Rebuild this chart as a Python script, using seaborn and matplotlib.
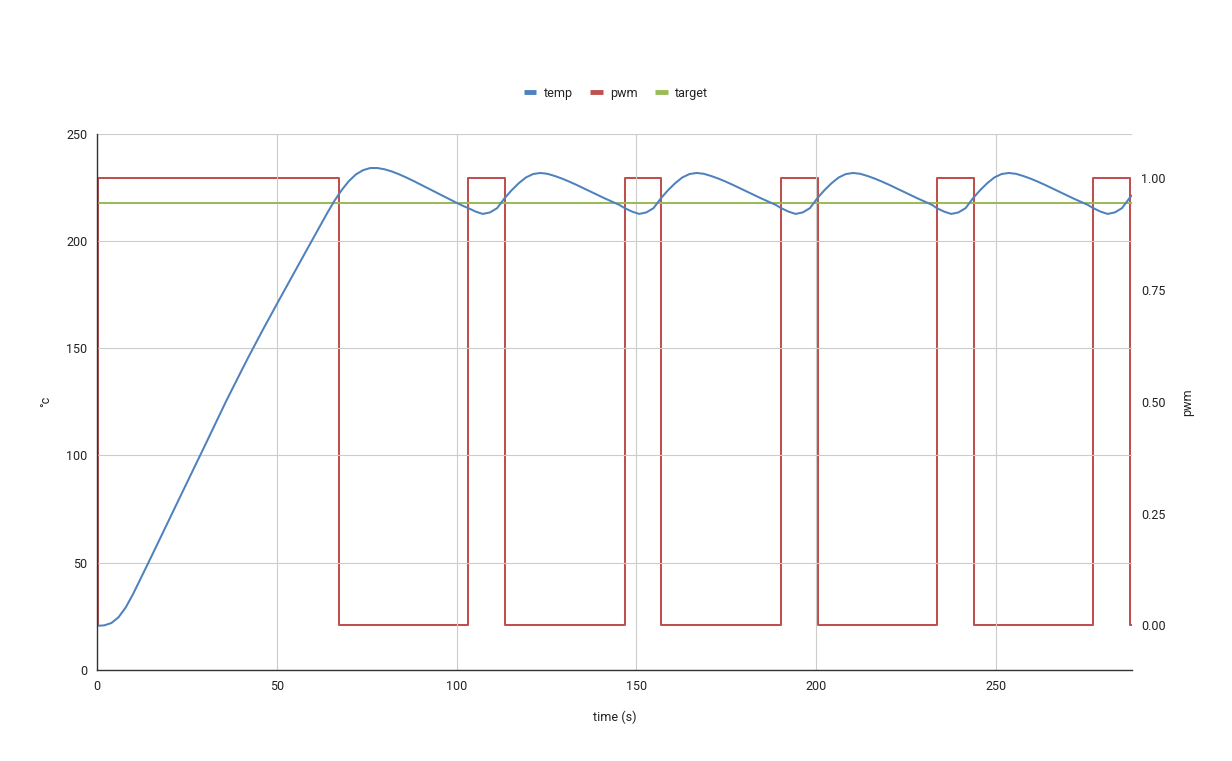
import matplotlib
matplotlib.use("Agg")
import matplotlib.pyplot as plt
from matplotlib.lines import Line2D
from matplotlib.ticker import FormatStrFormatter
import seaborn as sns
import pandas as pd

# ---------------- data ----------------
temp_time = [
    0, 2, 4, 6, 8, 10, 12, 14, 16, 18, 20, 22, 24, 26, 28, 30, 32, 34, 36, 38,
    40, 42, 44, 46, 48, 50, 52, 54, 56, 58, 60, 62, 64, 66, 68, 70, 72, 74, 76, 78,
    80, 82, 84, 86, 88, 90, 92, 94, 96, 98, 100, 102,
    103.3, 105.3, 107.3, 109.3, 111.3, 113.3, 115.3, 117.3, 119.3, 121.3, 123.3,
    125.3, 127.3, 129.3, 131.3, 133.3, 135.3, 137.3, 139.3, 141.3, 143.3, 145.3,
    146.8, 148.8, 150.8, 152.8, 154.8, 156.8, 158.8, 160.8, 162.8, 164.8, 166.8,
    168.8, 170.8, 172.8, 174.8, 176.8, 178.8, 180.8, 182.8, 184.8, 186.8, 188.8,
    190.3, 192.3, 194.3, 196.3, 198.3, 200.3, 202.3, 204.3, 206.3, 208.3, 210.3,
    212.3, 214.3, 216.3, 218.3, 220.3, 222.3, 224.3, 226.3, 228.3, 230.3, 232.3,
    233.6, 235.6, 237.6, 239.6, 241.6, 243.6, 245.6, 247.6, 249.6, 251.6, 253.6,
    255.6, 257.6, 259.6, 261.6, 263.6, 265.6, 267.6, 269.6, 271.6, 273.6, 275.6,
    277.1, 279.1, 281.1, 283.1, 285.1, 287.1, 287.8,
]
temp_value = [
    20.6, 20.8, 21.9, 24.6, 29.2, 35.3, 42.1, 49.0, 55.9, 62.9, 69.9, 76.9, 83.8,
    90.7, 97.6, 104.6, 111.6, 118.6, 125.6, 132.3, 138.9, 145.5, 151.9, 158.2,
    164.4, 170.5, 176.6, 182.7, 188.7, 194.8, 200.8, 206.9, 212.9, 218.6, 223.6,
    227.8, 231.0, 233.0, 234.0, 234.0, 233.4, 232.4, 231.1, 229.6, 228.0, 226.3,
    224.6, 222.9, 221.2, 219.5, 217.8, 216.2,
    215.3, 213.7, 212.6, 213.3, 215.3, 219.8, 223.6, 226.9, 229.6, 231.2, 231.7,
    231.3, 230.3, 229.1, 227.7, 226.2, 224.6, 223.0, 221.4, 219.8, 218.3, 216.8,
    215.3, 213.7, 212.6, 213.3, 215.3, 219.8, 223.6, 226.9, 229.6, 231.2, 231.7,
    231.3, 230.3, 229.1, 227.7, 226.2, 224.6, 223.0, 221.4, 219.8, 218.3, 216.8,
    215.3, 213.7, 212.6, 213.3, 215.3, 219.8, 223.6, 226.9, 229.6, 231.2, 231.7,
    231.3, 230.3, 229.1, 227.7, 226.2, 224.6, 223.0, 221.4, 219.8, 218.3, 216.8,
    215.3, 213.7, 212.6, 213.3, 215.3, 219.8, 223.6, 226.9, 229.6, 231.2, 231.7,
    231.3, 230.3, 229.1, 227.7, 226.2, 224.6, 223.0, 221.4, 219.8, 218.3, 216.8,
    215.3, 213.7, 212.6, 213.3, 215.3, 219.8, 221.2,
]

pwm_time = [0, 0.3, 67.2, 103.3, 113.6, 146.8, 157.0, 190.3, 200.5,
            233.6, 243.8, 277.1, 287.3, 287.8]
pwm_value = [0, 1, 0, 1, 0, 1, 0, 1, 0, 1, 0, 1, 0, 0]

target_time = [0, 287.8]
target_value = [217.5, 217.5]

x_ticks = [0, 50, 100, 150, 200, 250]
temp_ticks = [0, 50, 100, 150, 200, 250]
pwm_ticks = [0.0, 0.25, 0.5, 0.75, 1.0]

series_names = ["temp", "pwm", "target"]
colors = {"temp": "#4F81BD", "pwm": "#C0504D", "target": "#9BBB59"}

# ---------------- figure ----------------
sns.set_theme(style="white")
plt.rcParams["font.family"] = ["Roboto", "DejaVu Sans"]

fig = plt.figure(figsize=(12.32, 7.61), dpi=100)
ax = fig.add_axes([97 / 1232, 1 - 670 / 761, (1131.7 - 97) / 1232, (670 - 133.7) / 761])
ax2 = ax.twinx()

lw = 1.45
df_temp = pd.DataFrame({"t": temp_time, "v": temp_value})
df_pwm = pd.DataFrame({"t": pwm_time, "v": pwm_value})
df_target = pd.DataFrame({"t": target_time, "v": target_value})

sns.lineplot(data=df_pwm, x="t", y="v", ax=ax2, color=colors["pwm"], linewidth=lw,
             drawstyle="steps-post", estimator=None, sort=False, legend=False)
sns.lineplot(data=df_target, x="t", y="v", ax=ax, color=colors["target"], linewidth=lw,
             estimator=None, sort=False, legend=False)
sns.lineplot(data=df_temp, x="t", y="v", ax=ax, color=colors["temp"], linewidth=lw,
             estimator=None, sort=False, legend=False)

# put primary axis (temp/target) above the pwm twin axis
ax.set_zorder(ax2.get_zorder() + 1)
ax.patch.set_visible(False)

ax.set_xlim(0, 287.8)
ax.set_ylim(0, 250)
ax2.set_ylim(-0.1, 1.1)

ax.set_xticks(x_ticks)
ax.set_yticks(temp_ticks)
ax2.set_yticks(pwm_ticks)
ax2.yaxis.set_major_formatter(FormatStrFormatter("%.2f"))

ax.grid(True, color="#cccccc", linewidth=0.8)
ax.set_axisbelow(True)
ax2.grid(False)

for a in (ax, ax2):
    for s in ("top", "right"):
        a.spines[s].set_visible(False)
ax2.spines["left"].set_visible(False)
ax2.spines["bottom"].set_visible(False)
ax.spines["left"].set_color("#333333")
ax.spines["bottom"].set_color("#333333")
ax.spines["left"].set_linewidth(1.0)
ax.spines["bottom"].set_linewidth(1.0)

tick_kw = dict(length=0, labelsize=9, labelcolor="#222222")
ax.tick_params(axis="both", pad=7, **tick_kw)
ax2.tick_params(axis="y", pad=7, **tick_kw)

ax.set_xlabel("time (s)", fontsize=9, color="#222222", labelpad=13)
ax.set_ylabel("°c", fontsize=9, color="#222222", labelpad=10)
ax2.set_ylabel("pwm", fontsize=9, color="#222222", labelpad=11)

handles = [Line2D([0], [0], color=colors[n], linewidth=3.5, solid_capstyle="butt")
           for n in series_names]
fig.legend(handles, series_names, loc="center", bbox_to_anchor=(0.5, 1 - 93 / 761),
           ncol=3, frameon=False, fontsize=9, handlelength=1.0, handletextpad=0.6,
           columnspacing=1.4, labelcolor="#222222")

fig.savefig("out.png", dpi=100)
